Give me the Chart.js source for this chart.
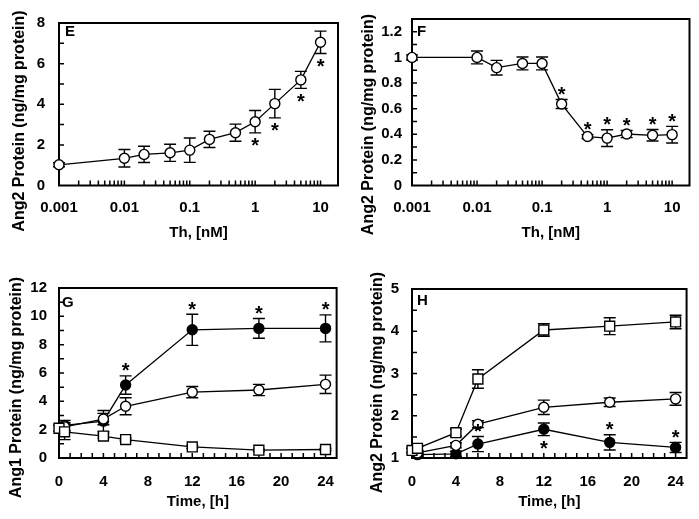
<!DOCTYPE html>
<html><head><meta charset="utf-8">
<script src="https://cdn.jsdelivr.net/npm/chart.js@4.4.0/dist/chart.umd.min.js"></script>
<style>
html,body{margin:0;padding:0;background:#fff;}
#wrap{position:relative;width:699px;height:519px;overflow:hidden;background:#fff;}
#wrap canvas{position:absolute;}
</style></head><body>
<div id="wrap">
<canvas id="cE" width="349" height="259" style="left:0;top:0"></canvas>
<canvas id="cF" width="350" height="259" style="left:349px;top:0"></canvas>
<canvas id="cG" width="349" height="260" style="left:0;top:259px"></canvas>
<canvas id="cH" width="350" height="260" style="left:349px;top:259px"></canvas>
</div>
<script>
// ---------- DATA ----------
const doseNM = [0.001, 0.01, 0.02, 0.05, 0.1, 0.2, 0.5, 1, 2, 5, 10];
const doseTickVals = [0.001, 0.01, 0.1, 1, 10];
const doseTickLabels = ['0.001', '0.01', '0.1', '1', '10'];

const ang2DoseE = [1.02, 1.34, 1.53, 1.61, 1.74, 2.27, 2.6, 3.14, 4.03, 5.2, 7.05];
const ang2DoseEErr = [0.1, 0.43, 0.4, 0.42, 0.6, 0.4, 0.42, 0.55, 0.7, 0.42, 0.55];
const ang2DoseEStar = [0, 0, 0, 0, 0, 0, 0, -1, -1, -1, -1];
const eYTickVals = [0, 2, 4, 6, 8];
const eYTickLabels = ['0', '2', '4', '6', '8'];

const ang2DoseF = [1.0, 1.0, 0.92, 0.953, 0.953, 0.636, 0.382, 0.37, 0.402, 0.392, 0.397];
const ang2DoseFErr = [0.02, 0.05, 0.057, 0.05, 0.05, 0.035, 0.015, 0.065, 0.028, 0.045, 0.065];
const ang2DoseFStar = [0, 0, 0, 0, 0, 1, 1, 1, 1, 1, 1];
const fYTickVals = [0, 0.2, 0.4, 0.6, 0.8, 1, 1.2];
const fYTickLabels = ['0', '0.2', '0.4', '0.6', '0.8', '1', '1.2'];

const timeSquare = [0, 0.5, 4, 6, 12, 18, 24];
const timeCircle = [0.5, 4, 6, 12, 18, 24];
const timeTickVals = [0, 4, 8, 12, 16, 20, 24];
const timeTickLabels = ['0', '4', '8', '12', '16', '20', '24'];

const ang1Filled = [2.3, 2.6, 5.15, 9.05, 9.15, 9.15];
const ang1FilledErr = [0.35, 0.75, 0.65, 1.1, 0.7, 0.95];
const ang1FilledStar = [0, 0, 1, 1, 1, 1];
const ang1Open = [2.2, 2.75, 3.65, 4.65, 4.8, 5.2];
const ang1OpenErr = [0.3, 0.4, 0.6, 0.4, 0.4, 0.65];
const ang1Square = [2.1, 1.85, 1.55, 1.3, 0.78, 0.55, 0.6];
const ang1SquareErr = [0.2, 0.55, 0.15, 0.1, 0.1, 0.08, 0.08];
const gYTickVals = [0, 2, 4, 6, 8, 10, 12];
const gYTickLabels = ['0', '2', '4', '6', '8', '10', '12'];

const ang2TimeSquare = [1.18, 1.23, 1.6, 2.87, 4.03, 4.12, 4.22];
const ang2TimeSquareErr = [0.05, 0.05, 0.08, 0.22, 0.15, 0.2, 0.16];
const ang2TimeOpen = [1.12, 1.3, 1.8, 2.2, 2.32, 2.4];
const ang2TimeOpenErr = [0.05, 0.06, 0.08, 0.17, 0.1, 0.15];
const ang2TimeFilled = [1.08, 1.1, 1.33, 1.68, 1.37, 1.25];
const ang2TimeFilledErr = [0.04, 0.06, 0.18, 0.15, 0.18, 0.12];
const ang2TimeFilledStar = [0, 0, 1, -1, 1, 1];
const hYTickVals = [1, 2, 3, 4, 5];
const hYTickLabels = ['1', '2', '3', '4', '5'];

// ---------- HELPERS ----------
const FONT = '"Liberation Sans", Arial, sans-serif';

function logMinor(min, max) {
  const out = [];
  for (let d = -3; d <= 1; d++) for (let k = 1; k <= 9; k++) {
    const v = k * Math.pow(10, d);
    if (v > min * 1.0001 && v < max) out.push(v);
  }
  return out;
}
function linMinor(min, max, step) {
  const out = [];
  for (let v = min + step; v < max - step / 2; v += step) out.push(v);
  return out;
}

function makeDeco(cfg) {
  return {
    id: 'deco',
    beforeDatasetsDraw(chart) {
      const { ctx, chartArea: a } = chart;
      const xs = chart.scales.x, ys = chart.scales.y;
      ctx.save();
      ctx.strokeStyle = '#000';
      ctx.lineCap = 'butt';
      // inward ticks
      ctx.lineWidth = 1.5;
      ctx.beginPath();
      cfg.xMinor.forEach(v => {
        const px = xs.getPixelForValue(v);
        ctx.moveTo(px, a.bottom); ctx.lineTo(px, a.bottom - 5);
      });
      cfg.yMinor.forEach(v => {
        const py = ys.getPixelForValue(v);
        ctx.moveTo(a.left, py); ctx.lineTo(a.left + 5, py);
      });
      ctx.stroke();
      // box
      ctx.lineWidth = 2;
      ctx.strokeRect(a.left, a.top, a.right - a.left, a.bottom - a.top);
      // error bars
      ctx.lineWidth = 1.4;
      cfg.series.forEach((s, di) => {
        const meta = chart.getDatasetMeta(di);
        meta.data.forEach((pt, j) => {
          const v = s.y[j], e = s.err[j];
          const yt = ys.getPixelForValue(v + e), yb = ys.getPixelForValue(v - e);
          const c = 6;
          ctx.beginPath();
          ctx.moveTo(pt.x, yt); ctx.lineTo(pt.x, yb);
          ctx.moveTo(pt.x - c, yt); ctx.lineTo(pt.x + c, yt);
          ctx.moveTo(pt.x - c, yb); ctx.lineTo(pt.x + c, yb);
          ctx.stroke();
        });
      });
      ctx.restore();
    },
    afterDraw(chart) {
      const { ctx } = chart;
      const ys = chart.scales.y;
      ctx.save();
      ctx.fillStyle = '#000';
      // stars
      ctx.font = 'bold 20px ' + FONT;
      ctx.textAlign = 'center';
      ctx.textBaseline = 'alphabetic';
      cfg.series.forEach((s, di) => {
        if (!s.star) return;
        const meta = chart.getDatasetMeta(di);
        meta.data.forEach((pt, j) => {
          const st = s.star[j];
          if (!st) return;
          let cy;
          if (st > 0) cy = ys.getPixelForValue(s.y[j] + s.err[j]) - 9;
          else cy = ys.getPixelForValue(s.y[j] - s.err[j]) + 9;
          ctx.fillText('*', pt.x, cy + 10.5);
        });
      });
      // panel letter
      ctx.font = 'bold 15px ' + FONT;
      ctx.textAlign = 'left';
      ctx.textBaseline = 'middle';
      ctx.fillText(cfg.letter, cfg.letterX, cfg.letterY);
      // y title
      ctx.font = 'bold 16px ' + FONT;
      ctx.textAlign = 'center';
      ctx.translate(cfg.yTitleX, cfg.yTitleY);
      ctx.rotate(-Math.PI / 2);
      ctx.fillText(cfg.yTitle, 0, 0);
      ctx.restore();
    }
  };
}

const styles = {
  open: { pointStyle: 'circle', pointRadius: 5, pointBackgroundColor: '#fff' },
  filled: { pointStyle: 'circle', pointRadius: 5, pointBackgroundColor: '#000' },
  square: { pointStyle: 'rect', pointRadius: 7, pointBackgroundColor: '#fff' }
};

function makeChart(id, cfg) {
  const datasets = cfg.series.map(s => Object.assign({
    data: s.x.map((xv, i) => ({ x: xv, y: s.y[i] })),
    borderColor: '#000',
    borderWidth: 1.3,
    pointBorderColor: '#000',
    pointBorderWidth: 1.4,
    pointHoverRadius: 5,
    tension: 0,
    fill: false,
    clip: false
  }, styles[s.style]));
  const tickFont = { family: FONT, size: 15, weight: 'bold' };
  new Chart(document.getElementById(id), {
    type: 'line',
    data: { datasets },
    plugins: [makeDeco(cfg)],
    options: {
      responsive: false,
      animation: false,
      events: [],
      layout: { padding: { top: cfg.padTop, right: cfg.padRight, left: 0, bottom: 0 } },
      plugins: { legend: { display: false }, tooltip: { enabled: false } },
      scales: {
        x: {
          type: cfg.xType, min: cfg.xMin, max: cfg.xMax,
          grid: { display: false, drawTicks: false },
          border: { display: false },
          afterBuildTicks: sc => { sc.ticks = cfg.xTickVals.map(v => ({ value: v })); },
          afterFit: sc => { sc.height = cfg.xAxisH; },
          ticks: {
            color: '#000', font: tickFont, padding: cfg.xLabelPad, maxRotation: 0, autoSkip: false,
            callback: (v, i) => cfg.xTickLabels[i]
          },
          title: {
            display: true, text: cfg.xTitle, color: '#000',
            font: { family: FONT, size: 15, weight: 'bold' },
            padding: { top: 0, bottom: cfg.xTitlePad }
          }
        },
        y: {
          type: 'linear', min: cfg.yMin, max: cfg.yMax,
          grid: { display: false, drawTicks: false },
          border: { display: false },
          afterBuildTicks: sc => { sc.ticks = cfg.yTickVals.map(v => ({ value: v })); },
          afterFit: sc => { sc.width = cfg.yAxisW; },
          ticks: {
            color: '#000', font: tickFont, padding: cfg.yLabelPad, autoSkip: false,
            callback: (v, i) => cfg.yTickLabels[i]
          }
        }
      }
    }
  });
}

const ang2Title = 'Ang2 Protein (ng/mg protein)';

makeChart('cE', {
  xType: 'logarithmic', xMin: 0.001, xMax: 18.5,
  xTickVals: doseTickVals, xTickLabels: doseTickLabels, xTitle: 'Th, [nM]',
  yMin: 0, yMax: 8, yTickVals: eYTickVals, yTickLabels: eYTickLabels,
  padTop: 17, padRight: 11, yAxisW: 59, xAxisH: 73.5,
  xLabelPad: 13.5, xTitlePad: 17.5, yLabelPad: 14,
  xMinor: logMinor(0.001, 18.5), yMinor: linMinor(0, 8, 1),
  series: [{ x: doseNM, y: ang2DoseE, err: ang2DoseEErr, star: ang2DoseEStar, style: 'open' }],
  letter: 'E', letterX: 65, letterY: 32,
  yTitle: ang2Title, yTitleX: 20, yTitleY: 121
});

makeChart('cF', {
  xType: 'logarithmic', xMin: 0.001, xMax: 18.5,
  xTickVals: doseTickVals, xTickLabels: doseTickLabels, xTitle: 'Th, [nM]',
  yMin: 0, yMax: 1.3, yTickVals: fYTickVals, yTickLabels: fYTickLabels,
  padTop: 17, padRight: 9.5, yAxisW: 63, xAxisH: 73.5,
  xLabelPad: 13.5, xTitlePad: 17.5, yLabelPad: 10,
  xMinor: logMinor(0.001, 18.5), yMinor: linMinor(0, 1.3, 0.1),
  series: [{ x: doseNM, y: ang2DoseF, err: ang2DoseFErr, star: ang2DoseFStar, style: 'open' }],
  letter: 'F', letterX: 68, letterY: 32,
  yTitle: ang2Title, yTitleX: 20, yTitleY: 124.5
});

makeChart('cG', {
  xType: 'linear', xMin: 0, xMax: 25,
  xTickVals: timeTickVals, xTickLabels: timeTickLabels, xTitle: 'Time, [h]',
  yMin: 0, yMax: 12, yTickVals: gYTickVals, yTickLabels: gYTickLabels,
  padTop: 29, padRight: 11, yAxisW: 59, xAxisH: 61,
  xLabelPad: 14.7, xTitlePad: 8.3, yLabelPad: 12,
  xMinor: linMinor(0, 25, 1), yMinor: linMinor(0, 12, 1),
  series: [
    { x: timeSquare, y: ang1Square, err: ang1SquareErr, style: 'square' },
    { x: timeCircle, y: ang1Open, err: ang1OpenErr, style: 'open' },
    { x: timeCircle, y: ang1Filled, err: ang1FilledErr, star: ang1FilledStar, style: 'filled' }
  ],
  letter: 'G', letterX: 62, letterY: 44,
  yTitle: 'Ang1 Protein (ng/mg protein)', yTitleX: 16.7, yTitleY: 128.5
});

makeChart('cH', {
  xType: 'linear', xMin: 0, xMax: 25,
  xTickVals: timeTickVals, xTickLabels: timeTickLabels, xTitle: 'Time, [h]',
  yMin: 1, yMax: 5, yTickVals: hYTickVals, yTickLabels: hYTickLabels,
  padTop: 30, padRight: 9, yAxisW: 63, xAxisH: 61,
  xLabelPad: 14.7, xTitlePad: 8.3, yLabelPad: 13,
  xMinor: linMinor(0, 25, 1), yMinor: linMinor(1, 5, 0.5),
  series: [
    { x: timeSquare, y: ang2TimeSquare, err: ang2TimeSquareErr, style: 'square' },
    { x: timeCircle, y: ang2TimeOpen, err: ang2TimeOpenErr, style: 'open' },
    { x: timeCircle, y: ang2TimeFilled, err: ang2TimeFilledErr, star: ang2TimeFilledStar, style: 'filled' }
  ],
  letter: 'H', letterX: 68, letterY: 42,
  yTitle: ang2Title, yTitleX: 29, yTitleY: 123.5
});
</script>
</body></html>
